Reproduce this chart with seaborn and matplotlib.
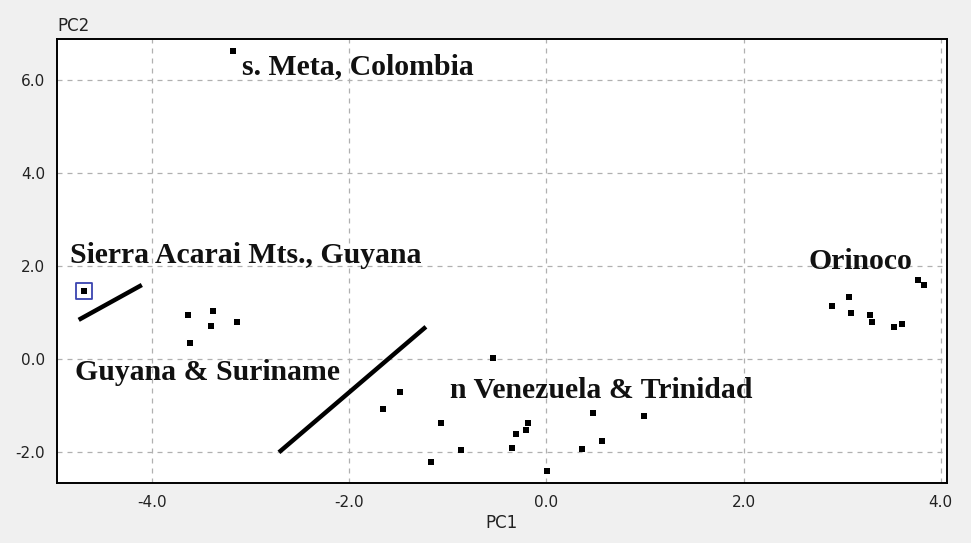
import matplotlib
matplotlib.use("Agg")
import matplotlib.pyplot as plt
import seaborn as sns
import pandas as pd

# PCA scores
meta_x = [-3.18]
meta_y = [6.62]
acarai_x = [-4.69]
acarai_y = [1.46]
guyana_x = [-3.63, -3.38, -3.40, -3.14, -3.61]
guyana_y = [0.95, 1.02, 0.71, 0.79, 0.34]
venez_x = [-0.54, -1.48, -1.65, -1.07, -0.86, -1.17, -0.19, -0.31, -0.21,
           -0.35, 0.01, 0.47, 0.57, 0.36, 0.99]
venez_y = [0.01, -0.72, -1.07, -1.37, -1.97, -2.21, -1.37, -1.61, -1.54,
           -1.91, -2.42, -1.17, -1.77, -1.94, -1.23]
orinoco_x = [3.77, 3.83, 3.07, 2.90, 3.09, 3.28, 3.30, 3.53, 3.61]
orinoco_y = [1.69, 1.59, 1.33, 1.13, 0.99, 0.95, 0.79, 0.68, 0.75]

# hand-drawn separators
sep1_x = [-4.74, -4.10]
sep1_y = [0.84, 1.59]
sep2_x = [-2.71, -1.22]
sep2_y = [-2.01, 0.69]

labels = ["s. Meta, Colombia", "Sierra Acarai Mts., Guyana", "Guyana & Suriname",
          "n Venezuela & Trinidad", "Orinoco"]
label_x = [-3.08, -4.83, -4.78, -0.98, 2.66]
label_y = [6.29, 2.22, -0.29, -0.68, 2.10]

xticks = [-4.0, -2.0, 0.0, 2.0, 4.0]
yticks = [-2.0, 0.0, 2.0, 4.0, 6.0]

df = pd.DataFrame({
    "PC1": meta_x + acarai_x + guyana_x + venez_x + orinoco_x,
    "PC2": meta_y + acarai_y + guyana_y + venez_y + orinoco_y,
})

sns.set_style("white")
plt.rcParams["font.family"] = ["DejaVu Sans"]

fig = plt.figure(figsize=(9.71, 5.43), dpi=100, facecolor="#f0f0f0")
ax = fig.add_axes([0.0587, 0.1105, 0.9163, 0.8175])
ax.set_facecolor("white")

sns.scatterplot(data=df, x="PC1", y="PC2", ax=ax, color="black", marker="s",
                s=13, linewidth=0, zorder=3)
# highlighted sample
ax.scatter(acarai_x, acarai_y, marker="s", s=130, facecolors="none",
           edgecolors="#3a44b0", linewidths=1.3, zorder=4)

ax.plot(sep1_x, sep1_y, color="black", lw=3.2, solid_capstyle="butt")
ax.plot(sep2_x, sep2_y, color="black", lw=3.2, solid_capstyle="butt")

for t, x, y in zip(labels, label_x, label_y):
    ax.text(x, y, t, fontsize=21.4, fontweight="bold", family="Liberation Serif",
            va="center", ha="left", color="#111111")

ax.set_xlim(-4.96, 4.06)
ax.set_ylim(-2.67, 6.88)
ax.set_xticks(xticks)
ax.set_yticks(yticks)
ax.set_xticklabels([f"{v:.1f}" for v in xticks])
ax.set_yticklabels([f"{v:.1f}" for v in yticks])
ax.grid(True, color="#b0b0b0", linestyle=(0, (4, 4)), linewidth=0.9)
ax.set_axisbelow(True)
ax.tick_params(axis="both", direction="out", length=5, width=1, labelsize=11,
               colors="black", labelcolor="#222222")
for s in ax.spines.values():
    s.set_visible(True)
    s.set_color("black")
    s.set_linewidth(1.4)

ax.set_xlabel("PC1", fontsize=12, color="#222222", labelpad=3)
ax.set_ylabel("")
fig.text(0.0587, 0.935, "PC2", fontsize=12, color="#222222", ha="left", va="bottom")

fig.savefig("out.png", dpi=100, facecolor=fig.get_facecolor())
